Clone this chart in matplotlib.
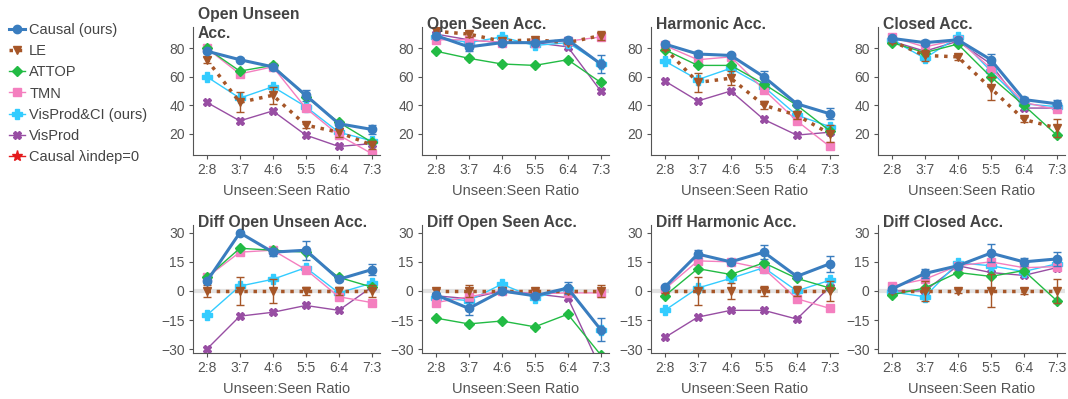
import numpy as np
import matplotlib
matplotlib.use("Agg")
import matplotlib.pyplot as plt
from matplotlib.lines import Line2D

plt.rcParams['font.family'] = ['Liberation Sans', 'DejaVu Sans']

ratios = ['2:8', '3:7', '4:6', '5:5', '6:4', '7:3']
titles = ['Open Unseen\nAcc.', 'Open Seen Acc.', 'Harmonic Acc.', 'Closed Acc.',
          'Diff Open Unseen Acc.', 'Diff Open Seen Acc.', 'Diff Harmonic Acc.', 'Diff Closed Acc.']

# values per panel (same order as titles)
causal = [[78, 72, 67, 47, 27, 23], [89, 81, 84, 84, 86, 69],
          [83, 76, 75, 60, 41, 34], [87, 84, 86, 72, 44, 41],
          [5, 30, 20, 21, 6, 11], [-2, -9, 0, -2.5, 1.5, -20],
          [2, 19, 15, 20, 7.5, 14], [1, 9, 13, 19.5, 15, 16.5]]
causal_err = [[1, 1, 1, 4, 1, 3], [2, 3, 1, 1, 2, 6],
              [1, 2, 1, 4, 1, 4], [1, 2, 1, 4, 2, 3],
              [1, 0.5, 2, 5, 1, 3], [1, 3.5, 1, 1, 3, 6],
              [0.5, 2, 1, 3.5, 1, 4], [0.5, 2.5, 1, 4.5, 2, 3.5]]
le = [[72, 42, 47, 26, 21, 12], [92, 90, 85, 86, 84, 89],
      [80, 56, 59, 40, 33, 20], [85, 75, 74, 52, 30, 24],
      [0, 0, 0, 0, 0, 0], [0, 0, 0, 0, 0, 0],
      [0, 0, 0, 0, 0, 0], [0, 0, 0, 0, 0, 0]]
le_err = [[2, 7, 6, 2, 3, 3], [2, 2, 1, 1, 1, 3],
          [1, 7, 5, 3, 3, 6], [1, 4, 2, 8, 2, 6],
          [3, 7, 6, 2, 2, 3], [1, 3, 1, 1, 1, 3],
          [1, 7, 4, 2.5, 2.5, 5], [1, 5, 1, 8.5, 1.5, 6]]
attop = [[80, 64, 68, 46, 28, 14], [78, 73, 69, 68, 72, 56],
         [79, 68, 68, 55, 40, 22], [84, 77, 83, 60, 40, 19],
         [7, 22, 21, 20, 7, 2], [-14, -17, -15.5, -18.5, -12, -33],
         [-2.5, 11.5, 8.5, 14.5, 6.5, 1.5], [-2, 1.5, 9.5, 7.5, 10.5, -5]]
tmn = [[80, 62, 67, 38, 19, 6], [86, 86, 84, 84, 85, 88],
       [82, 72, 74, 51, 29, 11], [88, 81, 86, 66, 42, 37],
       [7, 20, 21, 11, -3, -6], [-6, -3, 0, -1.5, -1, -1],
       [1, 15.5, 15, 11.5, -4, -9], [2.5, 6, 13, 15, 12, 12.5]]
visprod_ci = [[60, 45, 53, 39, 21, 15], [88, 84, 88, 82, 84, 69],
              [71, 58, 66, 53, 33, 25], [86, 73, 88, 64, 41, 39],
              [-12.5, 2.5, 6, 12, -1, 4], [-3.5, -5, 3.5, -3.5, 1, -20],
              [-10, 1.5, 6.5, 12, 0, 5.5], [-0.5, -3, 14.5, 13, 10, 14]]
visprod = [[42, 29, 36, 19, 11, 13], [90, 86, 84, 84, 81, 50],
           [57, 43, 50, 30, 19, 21], [85, 78, 85, 69, 38, 38],
           [-30, -13, -11, -7.5, -10, 2], [-2.5, -4, 0, -1.5, -3.5, -40],
           [-24, -13.5, -10, -10, -14.5, 2], [0, 0, 13, 9.5, 8, 12]]

c_blue = '#3a7dbf'
c_brown = '#a65628'
c_green = '#22bb44'
c_pink = '#f47fbf'
c_cyan = '#33ccff'
c_purple = '#984ea3'
c_red = '#e41a1c'
grey = '#555555'

fig = plt.figure(figsize=(10.68, 3.99), dpi=100)
x = np.arange(len(ratios))
lefts = [193, 422, 651, 878]
axes = []
for i in range(8):
    row, col = divmod(i, 4)
    b = (1 - 155 / 399) if row == 0 else (1 - 353 / 399)
    ax = fig.add_axes([lefts[col] / 1068, b, 187 / 1068, 128 / 399])
    axes.append(ax)

    if row == 1:
        ax.axhline(0, color='#e3e3e3', lw=3, zorder=0)

    ax.plot(x, visprod[i], color=c_purple, marker='X', ms=6, lw=1, label='VisProd')
    ax.plot(x, visprod_ci[i], color=c_cyan, marker='P', ms=7, lw=1, label='VisProd&CI (ours)')
    ax.plot(x, tmn[i], color=c_pink, marker='s', ms=6, lw=1, label='TMN')
    ax.plot(x, attop[i], color=c_green, marker='D', ms=5, lw=1, label='ATTOP')
    ax.errorbar(x, le[i], yerr=le_err[i], color=c_brown, marker='v', ms=6, lw=2.5, ls=':',
                elinewidth=1, capsize=3, label='LE')
    ax.errorbar(x, causal[i], yerr=causal_err[i], color=c_blue, marker='o', ms=6, lw=2.2,
                elinewidth=1, capsize=3, label='Causal (ours)')

    ax.set_xticks(x)
    ax.set_xticklabels(ratios)
    ax.set_xlim(-0.42, 5.25)
    if row == 0:
        ax.set_ylim(5, 95)
        ax.set_yticks([20, 40, 60, 80])
    else:
        ax.set_ylim(-32, 34)
        ax.set_yticks([-30, -15, 0, 15, 30])
    ax.set_xlabel('Unseen:Seen Ratio', fontsize=10.5, color=grey, labelpad=5)
    ty = 0.93 if i == 0 else 1.0
    ax.set_title(titles[i], loc='left', fontsize=11.3, fontweight='bold', color='#444444',
                 pad=-1.5, x=0.025, y=ty, linespacing=1.3)
    for s in ['top', 'right']:
        ax.spines[s].set_visible(False)
    for s in ['left', 'bottom']:
        ax.spines[s].set_color(grey)
    ax.tick_params(colors=grey, labelsize=10, length=3, pad=3)

handles = [
    Line2D([], [], color=c_blue, marker='o', ms=6, lw=2.2),
    Line2D([], [], color=c_brown, marker='v', ms=6, lw=2.5, ls=':'),
    Line2D([], [], color=c_green, marker='D', ms=5, lw=1),
    Line2D([], [], color=c_pink, marker='s', ms=6, lw=1),
    Line2D([], [], color=c_cyan, marker='P', ms=7, lw=1),
    Line2D([], [], color=c_purple, marker='X', ms=6, lw=1),
    Line2D([], [], color=c_red, marker='*', ms=8, lw=1),
]
labels = ['Causal (ours)', 'LE', 'ATTOP', 'TMN', 'VisProd&CI (ours)', 'VisProd', 'Causal λindep=0']
fig.legend(handles, labels, loc='upper left', bbox_to_anchor=(0.0, 0.965), frameon=False,
           fontsize=10.5, handlelength=1.1, handletextpad=0.3, labelspacing=0.5,
           borderaxespad=0.2, labelcolor='#444444')

fig.savefig('out.png', dpi=100)
